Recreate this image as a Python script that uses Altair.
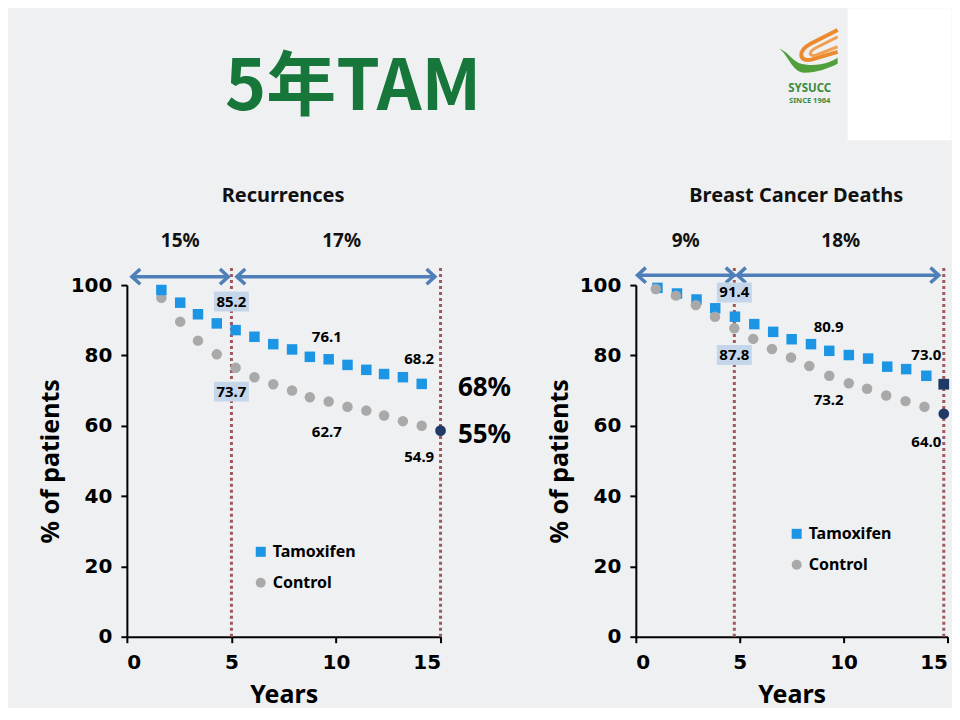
import altair as alt
import pandas as pd

# ---------------- Data: left panel (Recurrences) ----------------
rec_years = [1.65, 2.55, 3.4, 4.3, 5.2, 6.1, 7.0, 7.9, 8.75, 9.65, 10.55, 11.45, 12.3, 13.2, 14.1]
rec_tam = [98.6, 95.0, 91.7, 89.1, 87.2, 85.3, 83.2, 81.7, 79.6, 78.9, 77.3, 75.9, 74.7, 73.8, 71.9]
rec_ctrl = [96.4, 89.6, 84.2, 80.3, 76.5, 73.8, 71.8, 70.0, 68.1, 66.9, 65.4, 64.3, 62.9, 61.3, 60.0]
rec_end_x = [15.0]
rec_end_y = [58.6]
rec_end_shape = ["circle"]
rec_labels = ["85.2", "73.7", "76.1", "68.2", "62.7", "54.9"]
rec_label_x = [5.0, 5.0, 9.56, 13.98, 9.56, 13.98]
rec_label_y = [95.3, 69.7, 85.1, 78.9, 58.3, 51.2]
rec_label_boxed = [True, True, False, False, False, False]
rec_pct = ["15%", "17%"]
rec_pct_x = [2.55, 10.27]
rec_pct_y = [112.4, 112.4]
rec_big = ["68%", "55%"]
rec_big_x = [17.1, 17.1]
rec_big_y = [70.7, 57.4]
rec_arrow_from = [0.24, 5.26]
rec_arrow_to = [4.85, 14.73]
rec_arrow_y = [102.4, 102.4]
rec_marks = [5.0, 15.0]

# ---------------- Data: right panel (Breast Cancer Deaths) ----------------
bcd_tam_years = [1.04, 1.98, 2.92, 3.82, 4.77, 5.70, 6.61, 7.50, 8.43, 9.31, 10.25, 11.18, 12.10, 13.01, 13.98]
bcd_tam = [99.2, 97.6, 95.9, 93.4, 91.0, 88.9, 86.7, 84.6, 83.2, 81.3, 80.1, 79.1, 76.8, 76.1, 74.2]
bcd_ctrl_years = [0.96, 1.93, 2.89, 3.81, 4.74, 5.65, 6.55, 7.47, 8.35, 9.31, 10.25, 11.13, 12.05, 12.98, 13.89]
bcd_ctrl = [98.9, 97.0, 94.3, 91.0, 87.7, 84.7, 81.8, 79.4, 77.0, 74.2, 72.1, 70.5, 68.6, 67.0, 65.4]
bcd_end_x = [14.82, 14.82]
bcd_end_y = [71.8, 63.4]
bcd_end_shape = ["square", "circle"]
bcd_labels = ["91.4", "87.8", "80.9", "73.0", "73.2", "64.0"]
bcd_label_x = [4.74, 4.74, 9.28, 13.98, 9.28, 13.98]
bcd_label_y = [97.9, 80.1, 88.2, 80.1, 67.3, 55.5]
bcd_label_boxed = [True, True, False, False, False, False]
bcd_pct = ["9%", "18%"]
bcd_pct_x = [2.4, 9.86]
bcd_pct_y = [112.4, 112.4]
bcd_arrow_from = [0.08, 4.89]
bcd_arrow_to = [4.73, 14.58]
bcd_arrow_y = [102.8, 102.8]
bcd_marks = [4.74, 14.82]

groups = ["Tamoxifen", "Control"]
x_ticks = [0, 5, 10, 15]
y_ticks = [0, 20, 40, 60, 80, 100]

BLUE = "#1b95e4"
GRAY = "#a9a9a9"
NAVY = "#1f3a66"
ARROW = "#4f7fb8"
DOT = "#a0585c"
BOX = "#c6d6ea"
GREEN = "#17763a"

BOX_PATH = "M-1.75,-1L1.75,-1L1.75,1L-1.75,1Z"
HEAD_R = "M-1.1,-1L0,0L-1.1,1"
HEAD_L = "M1.1,-1L0,0L1.1,1"

XS = alt.Scale(domain=[0, 15], nice=False)
YS = alt.Scale(domain=[0, 100], nice=False)
XA = alt.Axis(values=x_ticks, title="Years")
YA = alt.Axis(values=y_ticks, title="% of patients")


def X(field):
    return alt.X(field, type="quantitative", scale=XS, axis=XA)


def Y(field):
    return alt.Y(field, type="quantitative", scale=YS, axis=YA)


def panel(tam_x, tam_y, ctrl_x, ctrl_y, ctrl_first, end_x, end_y, end_shape,
          labels, lab_x, lab_y, boxed, pct, pct_x, pct_y, arr_from, arr_to, arr_y,
          marks, subtitle, sub_x, width, legend_x, legend_y, extra_layers):
    tam = pd.DataFrame({"x": tam_x, "y": tam_y, "group": "Tamoxifen"})
    ctrl = pd.DataFrame({"x": ctrl_x, "y": ctrl_y, "group": "Control"})
    series = pd.concat([ctrl, tam] if ctrl_first else [tam, ctrl], ignore_index=True)
    series["rank"] = range(len(series))

    leg = alt.Legend(orient="none", legendX=legend_x, legendY=legend_y, title=None,
                     labelFont="Noto Sans", labelFontWeight="bold", labelFontSize=16,
                     labelColor="#000000", symbolSize=100, rowPadding=15, labelOffset=4,
                     padding=0, symbolStrokeWidth=0)

    dotted = alt.Chart(pd.DataFrame({"x": marks, "y": [0] * len(marks), "y1": [105] * len(marks)})).mark_rule(
        color=DOT, strokeWidth=3, strokeDash=[3, 3]
    ).encode(x=X("x"), y=Y("y"), y2="y1")

    arr_df = pd.DataFrame({"x": arr_from, "x2": arr_to, "y": arr_y})
    shafts = alt.Chart(arr_df).mark_rule(color=ARROW, strokeWidth=3.5).encode(
        x=X("x"), x2="x2", y=Y("y"))
    heads_l = alt.Chart(pd.DataFrame({"x": arr_from, "y": arr_y})).mark_point(
        shape=HEAD_L, filled=False, color=ARROW, strokeWidth=3.5, size=230, opacity=1
    ).encode(x=X("x"), y=Y("y"))
    heads_r = alt.Chart(pd.DataFrame({"x": arr_to, "y": arr_y})).mark_point(
        shape=HEAD_R, filled=False, color=ARROW, strokeWidth=3.5, size=230, opacity=1
    ).encode(x=X("x"), y=Y("y"))

    points = alt.Chart(series).mark_point(filled=True, size=110, opacity=1, strokeWidth=0).encode(
        x=X("x"),
        y=Y("y"),
        color=alt.Color("group:N", scale=alt.Scale(domain=groups, range=[BLUE, GRAY]), legend=leg),
        shape=alt.Shape("group:N", scale=alt.Scale(domain=groups, range=["square", "circle"]), legend=leg),
        order=alt.Order("rank:Q"),
    )

    end_df = pd.DataFrame({"x": end_x, "y": end_y, "s": end_shape})
    end_layers = []
    for shp in ["square", "circle"]:
        if shp in end_shape:
            end_layers.append(
                alt.Chart(end_df).transform_filter(alt.datum.s == shp).mark_point(
                    shape=shp, filled=True, size=115, opacity=1, color=NAVY, strokeWidth=0
                ).encode(x=X("x"), y=Y("y"))
            )

    lab_df = pd.DataFrame({"x": lab_x, "y": lab_y, "t": labels, "boxed": boxed})
    boxes = alt.Chart(lab_df).transform_filter("datum.boxed").mark_point(
        shape=BOX_PATH, filled=True, color=BOX, size=400, opacity=1, strokeWidth=0
    ).encode(x=X("x"), y=Y("y"))
    value_text = alt.Chart(lab_df).mark_text(
        font="Noto Sans", fontSize=15, fontWeight="bold", color="#000000"
    ).encode(x=X("x"), y=Y("y"), text="t:N")

    pct_text = alt.Chart(pd.DataFrame({"x": pct_x, "y": pct_y, "t": pct})).mark_text(
        font="Noto Sans", fontSize=19, fontWeight="bold", color="#111111"
    ).encode(x=X("x"), y=Y("y"), text="t:N")

    sub_text = alt.Chart(pd.DataFrame({"x": [sub_x], "y": [125.3], "t": [subtitle]})).mark_text(
        font="Noto Sans", fontSize=20, fontWeight="bold", color="#111111"
    ).encode(x=X("x"), y=Y("y"), text="t:N")

    layers = list(extra_layers) + [dotted, shafts, heads_l, heads_r, points] + end_layers + \
        [boxes, value_text, pct_text, sub_text]
    return alt.layer(*layers).properties(width=width, height=352)


# ---------- decorations (page furniture) ----------
one = pd.DataFrame({"t": ["5年TAM"]})
anchor_left = alt.Chart(one).mark_rect(opacity=0).encode(
    x=alt.value(-118.5), x2=alt.value(0), y=alt.value(-277), y2=alt.value(0))
main_title = alt.Chart(one).mark_text(
    font="Noto Sans CJK SC", fontSize=70, fontWeight="bold", color=GREEN, align="center", baseline="alphabetic"
).encode(x=alt.value(226.5), y=alt.value(-175), text="t:N")

big_df = pd.DataFrame({"x": rec_big_x, "y": rec_big_y, "t": rec_big})
big_text = alt.Chart(big_df).mark_text(
    font="Noto Sans", fontSize=26, fontWeight="bold", color="#000000"
).encode(x=X("x"), y=Y("y"), text="t:N")

logo_df = pd.DataFrame({"a": ["SYSUCC"], "b": ["SINCE 1964"]})
white_box = alt.Chart(logo_df).mark_rect(color="#ffffff", opacity=1).encode(
    x=alt.value(212), x2=alt.value(316), y=alt.value(-277), y2=alt.value(-145))
leaf = alt.Chart(logo_df).mark_point(
    shape="M-1,-0.07C-0.7,0.0 -0.55,0.75 -0.1,0.75C0.3,0.75 0.7,0.6 1,0.45L1,0.25C0.6,0.5 0.1,0.55 -0.3,0.42C-0.55,0.3 -0.7,0.0 -1,-0.07Z",
    filled=True, color="#4f9f3a", size=3600, opacity=1, strokeWidth=0
).encode(x=alt.value(172), y=alt.value(-235))
stripe1 = alt.Chart(logo_df).mark_point(
    shape="M1,-0.68L0.1,-0.22C-0.35,0.02 -0.3,0.42 0.15,0.3L1,0.05",
    filled=False, color="#ec8a2e", size=3600, opacity=1, strokeWidth=4
).encode(x=alt.value(172), y=alt.value(-235))
stripe2 = alt.Chart(logo_df).mark_point(
    shape="M1,-0.45L0.25,-0.07C0.0,0.08 0.05,0.22 0.3,0.15L1,-0.12",
    filled=False, color="#f0a050", size=3600, opacity=1, strokeWidth=3
).encode(x=alt.value(172), y=alt.value(-235))
logo_a = alt.Chart(logo_df).mark_text(
    font="Noto Sans", fontSize=11.5, fontWeight="bold", color="#3c8a3c"
).encode(x=alt.value(174), y=alt.value(-196.5), text="a:N")
logo_b = alt.Chart(logo_df).mark_text(
    font="Noto Sans", fontSize=7.5, fontWeight="bold", color="#3c8a3c"
).encode(x=alt.value(174), y=alt.value(-184), text="b:N")

left = panel(rec_years, rec_tam, rec_years, rec_ctrl, True, rec_end_x, rec_end_y, rec_end_shape,
             rec_labels, rec_label_x, rec_label_y, rec_label_boxed, rec_pct, rec_pct_x, rec_pct_y,
             rec_arrow_from, rec_arrow_to, rec_arrow_y, rec_marks, "Recurrences", 7.47, 314,
             126, 259, [anchor_left, main_title, big_text])

right = panel(bcd_tam_years, bcd_tam, bcd_ctrl_years, bcd_ctrl, False, bcd_end_x, bcd_end_y, bcd_end_shape,
              bcd_labels, bcd_label_x, bcd_label_y, bcd_label_boxed, bcd_pct, bcd_pct_x, bcd_pct_y,
              bcd_arrow_from, bcd_arrow_to, bcd_arrow_y, bcd_marks, "Breast Cancer Deaths", 7.72, 312,
              153, 241, [white_box, leaf, stripe1, stripe2, logo_a, logo_b])

chart = alt.hconcat(left, right, spacing=195.5, bounds="flush").resolve_scale(
    color="independent", shape="independent"
).properties(padding=0).configure(
    background="#eef0f2"
).configure_view(stroke=None).configure_axis(
    grid=False, domainColor="#000000", domainWidth=2, tickColor="#000000", tickWidth=2, tickSize=6,
    labelFont="DejaVu Sans", labelFontWeight="bold", labelFontSize=20, labelColor="#000000",
    titleFont="Noto Sans", titleFontWeight="bold", titleFontSize=25, titleColor="#000000"
).configure_axisX(labelPadding=10, titlePadding=10).configure_axisY(labelPadding=9, titlePadding=7)

chart.save("out.html", embed_options={"renderer": "svg", "actions": False})
